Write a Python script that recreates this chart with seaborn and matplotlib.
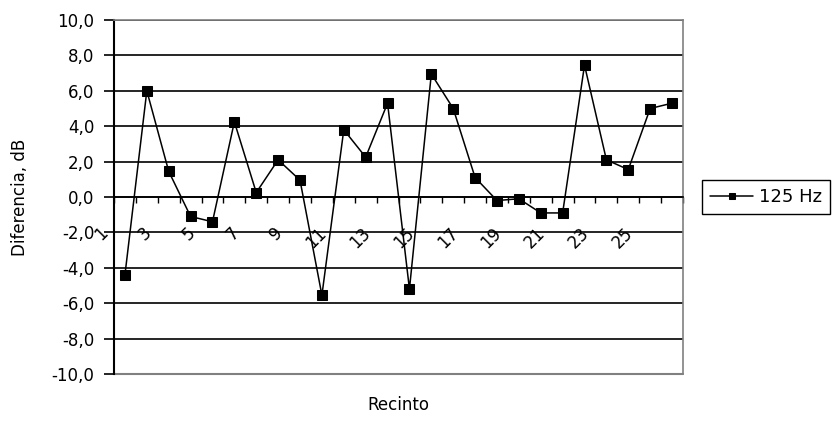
import numpy as np
import pandas as pd
import matplotlib.pyplot as plt
import matplotlib.transforms as mtransforms
import seaborn as sns

sns.set_style('white')
plt.rcParams['font.family'] = ['DejaVu Sans']
plt.rcParams['text.color'] = 'black'
plt.rcParams['axes.labelcolor'] = 'black'
plt.rcParams['xtick.color'] = 'black'
plt.rcParams['ytick.color'] = 'black'

# datos
recinto = list(range(1, 27))
diferencia = [-4.4, 6.0, 1.45, -1.1, -1.4, 4.25, 0.25, 2.1, 0.95, -5.55,
              3.8, 2.25, 5.3, -5.2, 6.95, 5.0, 1.1, -0.2, -0.1, -0.9,
              -0.9, 7.45, 2.1, 1.55, 5.0, 5.3]
serie = '125 Hz'
yticks = [-10, -8, -6, -4, -2, 0, 2, 4, 6, 8, 10]
xticks_lab = [1, 3, 5, 7, 9, 11, 13, 15, 17, 19, 21, 23, 25]

df = pd.DataFrame({'Recinto': recinto, 'Diferencia': diferencia})

fig = plt.figure(figsize=(8.33, 4.26), dpi=100)
ax = fig.add_axes([114 / 833, 52 / 426, 569 / 833, 354 / 426])

sns.lineplot(data=df, x='Recinto', y='Diferencia', color='black', marker='s',
             markersize=6.5, markeredgecolor='black', linewidth=1.1,
             label=serie, ax=ax)

ax.set_xlim(0.5, 26.5)
ax.set_ylim(-10, 10)
ax.set_yticks(yticks)
ax.set_yticklabels([f'{v:.1f}'.replace('.', ',') for v in yticks])
ax.grid(axis='y', color='black', linewidth=1.2)
ax.grid(axis='x', visible=False)
ax.set_axisbelow(True)

# eje x cruzando en 0 como en Excel
ax.spines['bottom'].set_position(('data', 0))
ax.spines['bottom'].set_color('black')
ax.spines['bottom'].set_linewidth(1.2)
ax.spines['left'].set_color('black')
ax.spines['left'].set_linewidth(1.5)
for s in ['top', 'right']:
    ax.spines[s].set_color('#808080')
    ax.spines[s].set_linewidth(1.2)
ax.axhline(-10, color='#808080', linewidth=1.5, clip_on=False)

ax.set_xticks(np.arange(0.5, 27, 1))
ax.set_xticks(xticks_lab, labels=[str(v) for v in xticks_lab], minor=True)
ax.tick_params(axis='x', which='major', bottom=True, direction='out',
               length=4, width=1, color='black', labelbottom=False)
ax.tick_params(axis='x', which='minor', bottom=True, length=0, pad=24,
               labelsize=12, labelrotation=45)
offset = mtransforms.ScaledTranslation(-20 / 100, 0, fig.dpi_scale_trans)
for lab in ax.get_xticklabels(minor=True):
    lab.set_ha('right')
    lab.set_va('center')
    lab.set_rotation_mode('anchor')
    lab.set_transform(lab.get_transform() + offset)

ax.tick_params(axis='y', left=True, direction='out', length=7, width=1.2,
               color='black', pad=7, labelsize=12)

ax.set_ylabel('Diferencia, dB', fontsize=12)
ax.yaxis.set_label_coords(-0.15, 0.5)
ax.set_xlabel('Recinto', fontsize=12)
ax.xaxis.set_label_coords(0.5, -0.062)

leg = ax.legend(loc='upper left', bbox_to_anchor=(702 / 833, 1 - 180 / 426),
                bbox_transform=fig.transFigure, borderaxespad=0,
                frameon=True, fancybox=False, edgecolor='black',
                framealpha=1, fontsize=13, handlelength=2.4,
                handletextpad=0.3, borderpad=0.45, markerscale=0.75)
leg.get_frame().set_linewidth(1.0)

fig.savefig('out.png', dpi=100)
